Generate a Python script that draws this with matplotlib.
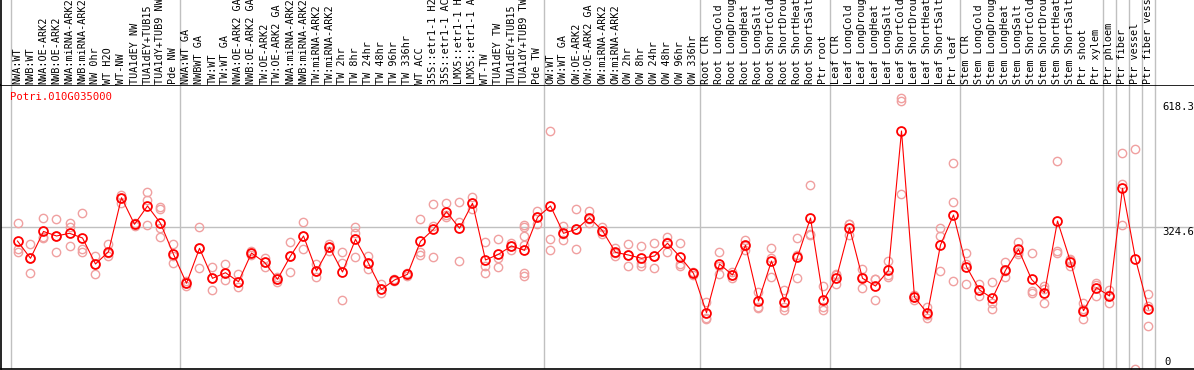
import matplotlib
matplotlib.use("Agg")
import matplotlib.pyplot as plt
import numpy as np

gene_id = "Potri.010G035000"

labels = [
    "NWA:WT", "NWB:WT", "NWA:OE-ARK2", "NWB:OE-ARK2", "NWA:miRNA-ARK2", "NWB:miRNA-ARK2",
    "NW 0hr", "WT H2O", "WT-NW", "TUA1dEY NW", "TUA1dEY+TUB15", "TUA1dY+TUB9 NW", "Pde NW",
    "NWA:WT GA", "NWBWT GA", "TW:WT", "TW:WT GA", "NWA:OE-ARK2 GA", "NWB:OE-ARK2 GA",
    "TW:OE-ARK2", "TW:OE-ARK2 GA", "NWA:miRNA-ARK2", "NWB:miRNA-ARK2", "TW:miRNA-ARK2",
    "TW:miRNA-ARK2", "TW 2hr", "TW 8hr", "TW 24hr", "TW 48hr", "TW 96hr", "TW 336hr",
    "WT ACC", "35S::etr1-1 H2", "35S::etr1-1 AC", "LMX5::etr1-1 H", "LMX5::etr1-1 A",
    "WT-TW", "TUA1dEY TW", "TUA1dEY+TUB15", "TUA1dY+TUB9 TW", "Pde TW",
    "OW:WT", "OW:WT GA", "OW:OE-ARK2", "OW:OE-ARK2 GA", "OW:miRNA-ARK2", "OW:miRNA-ARK2",
    "OW 2hr", "OW 8hr", "OW 24hr", "OW 48hr", "OW 96hr", "OW 336hr",
    "Root CTR", "Root LongCold", "Root LongDroug", "Root LongHeat", "Root LongSalt",
    "Root ShortCold", "Root ShortDrou", "Root ShortHeat", "Root ShortSalt", "Ptr root",
    "Leaf CTR", "Leaf LongCold", "Leaf LongDroug", "Leaf LongHeat", "Leaf LongSalt",
    "Leaf ShortCold", "Leaf ShortDrou", "Leaf ShortHeat", "Leaf ShortSalt", "Ptr leaf",
    "Stem CTR", "Stem LongCold", "Stem LongDroug", "Stem LongHeat", "Stem LongSalt",
    "Stem ShortCold", "Stem ShortDrou", "Stem ShortHeat", "Stem ShortSalt", "Ptr shoot",
    "Ptr xylem", "Ptr phloem", "Ptr fiber", "Ptr vessel", "Ptr fiber vess",
]

group_sizes = [13, 28, 12, 10, 10, 11, 1, 1, 1, 1]

means = [
    293, 253.5, 315, 304.6, 310.8, 300, 240.5, 268.6, 392.3, 331.4, 373.3, 333.7, 262.7,
    196.3, 276.4, 207.7, 220.5, 199.9, 265.6, 244.3, 205.4, 258.8, 304.6, 224.4, 278.7,
    222.1, 297, 242, 182.5, 203.8, 216.9, 292.4, 319.9, 360.2, 322.2, 379.5, 249.6,
    262.7, 281.7, 271.8, 347.4,
    373.3, 310.8, 319.9, 346.5, 316.7, 267.2, 261, 253.5, 258.8, 287.9, 255.8, 219.2,
    128.9, 240.5, 215.3, 283.3, 155.7, 247.3, 153.4, 256.5, 345.8, 157.3,
    209.1, 323.6, 207.7, 190, 226, 545, 164.2, 127.6, 284, 352.7,
    234.3, 180.9, 161.9, 226, 274.1, 205.4, 174.7, 338.9, 245.7, 133.5, 186.2,
    167.2, 413.8, 251.9, 137.4,
]

replicates = [
    [333.7, 274.1, 267.2], [285.6, 253.5, 219.2], [345.1, 303, 299.3], [342.8, 304.6, 267.2],
    [333.7, 325.9, 281.7], [356.6, 274.1, 267.2], [258.8, 240.5, 217.6], [285.6, 265, 259.5],
    [398.5, 392.3, 380.8], [334.4, 331.4, 327.5], [405.3, 387, 329.1],
    [371.7, 365.7, 322.2, 303], [286.3, 258.8, 242],
    [201.5, 196.3, 190], [324.5, 276.4, 230.6], [232.9, 207.7, 180.9], [240.5, 220.5, 203.8],
    [217.6, 199.9, 187.1], [265.6, 261, 270.2], [254.9, 244.3, 234.3], [210.7, 205.4, 199.2],
    [291.5, 258.8, 222.8], [336, 304.6, 274.1], [240.5, 224.4, 210], [286.3, 278.7, 270.9],
    [267.2, 243.4, 158], [324.5, 310.8, 256.3], [259.5, 242, 228.3], [194.7, 182.5, 174.7],
    [206.5, 203.8, 201], [219.5, 216.9, 214], [342.8, 268.6, 261], [377.2, 327.5, 255.8],
    [379.5, 352.7, 348.8], [381.7, 337.3, 248], [393.2, 379, 365.7], [290.1, 236.6, 219.2],
    [297, 253.5, 232.9], [289.2, 281.7, 272.5],
    [329.8, 325.9, 305.3, 284, 220.5, 213], [361.8, 348, 332],
    [544.3, 297, 271.8], [327.5, 309, 295.4], [365.7, 319.5, 274.8], [361.8, 344.2, 333.7],
    [325.9, 315.3, 309.2], [276.4, 265.6, 259.5], [286.3, 261, 235.9], [281.7, 242.7, 235.9],
    [287.9, 258.8, 230.6], [303, 291.5, 268.6], [287.9, 240.5, 235.9], [222, 219.2, 216],
    [154.1, 117.5, 115.2], [268.6, 235.9, 216.9], [222.1, 215.3, 207.7], [295.4, 281.7, 272.5],
    [177, 142.7, 139], [276.4, 253.5, 210], [180.9, 141.3, 135.1], [299.3, 261, 207.7],
    [420.7, 308.5, 308], [190.8, 142.7, 135.1],
    [216.9, 215.3, 194], [332, 331.4, 306.9], [228.3, 210.7, 184.8], [206.1, 205.4, 158],
    [247.3, 215.3, 211.4], [620, 614.4, 400.8], [169.5, 164.2, 158], [142.7, 123.7, 116.1],
    [322.2, 304.6, 225.1], [471.1, 381.7, 201.5],
    [266.3, 240.5, 194.7], [194.7, 180.9, 167.2], [198.5, 150.5, 136.7], [244.3, 224.4, 210],
    [291.5, 267.9, 263.4], [265, 178.6, 173.4], [190.8, 183.2, 150.5], [476.3, 270.2, 266.3],
    [251.9, 249.6, 235.9], [150.5, 136.3, 113.8], [197.6, 193.5, 167.2],
    [180.9, 170.1, 150.5], [494, 423.7, 329.8], [503.1, 0], [171.8, 144.3, 98.5],
]

y_max = 618.3
y_mid = 324.6

# ---------------- layout ----------------
W, H = 1194, 370
fig = plt.figure(figsize=(W / 100, H / 100), dpi=100)

col_px = 13.0
x0_px = 11.0
ax_left_px, ax_right_px = 1.0, 1194.0
ax_top_px, ax_bot_px = 85.0, 369.0
ppu = (ax_bot_px - 99.0) / y_max  # pixels per unit

ax = fig.add_axes([ax_left_px / W, (H - ax_bot_px) / H,
                   (ax_right_px - ax_left_px) / W, (ax_bot_px - ax_top_px) / H])
hax = fig.add_axes([ax_left_px / W, (H - ax_top_px) / H,
                    (ax_right_px - ax_left_px) / W, ax_top_px / H], sharex=ax)

xlo = (ax_left_px - x0_px) / col_px
xhi = (ax_right_px - x0_px) / col_px
ax.set_xlim(xlo, xhi)
ax.set_ylim(0, (ax_bot_px - ax_top_px) / ppu)
hax.set_ylim(0, 1)

mono = "DejaVu Sans Mono"

for a in (ax, hax):
    a.set_xticks([])
    a.set_yticks([])
    for s in a.spines.values():
        s.set_visible(False)
for s in ("left", "top", "bottom"):
    ax.spines[s].set_visible(True)
    ax.spines[s].set_color("black")
    ax.spines[s].set_linewidth(1.2)
hax.spines["left"].set_visible(True)
hax.spines["left"].set_linewidth(1.2)

# group separators
bounds = np.concatenate([[0], np.cumsum(group_sizes)])
for b in bounds:
    ax.axvline(b, color="#c0c0c0", lw=1.0, zorder=1)
    hax.axvline(b, color="#c0c0c0", lw=1.0, zorder=1)

ax.axhline(y_mid, color="#c0c0c0", lw=1.0, zorder=1)

xs = np.arange(len(means)) + 0.5

# replicates
for i, reps in enumerate(replicates):
    ax.plot([xs[i]] * len(reps), reps, linestyle="none", marker="o", markersize=6.0,
            markerfacecolor="none", markeredgecolor="#f0a0a0", markeredgewidth=1.0,
            zorder=2, clip_on=True)

# mean line
ax.plot(xs, means, color="red", lw=0.8, zorder=3)
ax.plot(xs, means, linestyle="none", marker="o", markersize=6.4,
        markerfacecolor="none", markeredgecolor="red", markeredgewidth=1.3, zorder=4)

# header labels
for i, lab in enumerate(labels):
    hax.text(xs[i], (ax_top_px - 83.5) / ax_top_px, lab, rotation=90,
             ha="center", va="bottom", fontsize=7.3, family=mono, color="black",
             clip_on=False)

# gene id
fig.text(10 / W, (H - 97) / H, gene_id, color="red", fontsize=7.6, family=mono,
         ha="left", va="center")

# right axis labels
fig.text(1162 / W, (H - 107) / H, f"{y_max:.1f}", fontsize=7.6, family=mono,
         ha="left", va="center")
fig.text(1162 / W, (H - 232) / H, f"{y_mid:.1f}", fontsize=7.6, family=mono,
         ha="left", va="center")
fig.text(1164 / W, (H - 362) / H, "0", fontsize=7.6, family=mono,
         ha="left", va="center")

fig.savefig("out.png", dpi=100)
